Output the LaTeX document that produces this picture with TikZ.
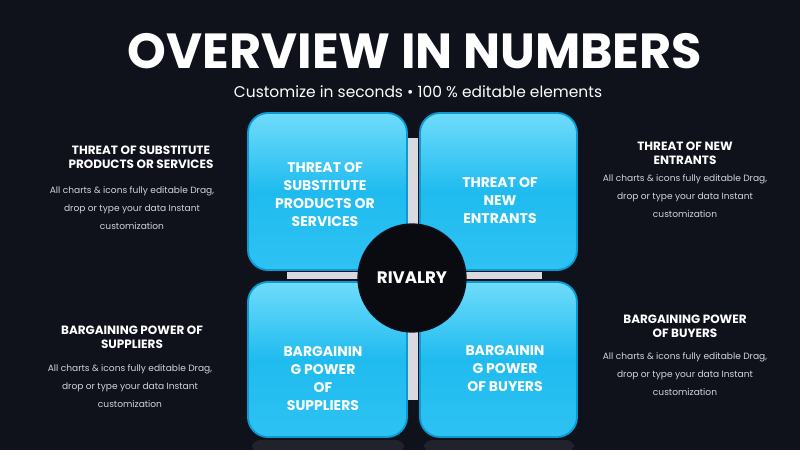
\documentclass[tikz,border=0pt]{standalone}
\usepackage{fontspec}
\setmainfont{Poppins}

\definecolor{bgnavy}{HTML}{0F111B}
\definecolor{cyanhi}{HTML}{6FDCFB}
\definecolor{cyanmid}{HTML}{1FBBEF}
\definecolor{cyanlo}{HTML}{2EC2F3}
\definecolor{cyanrim}{HTML}{0B9BD3}
\definecolor{bargray}{HTML}{D9D9DF}
\definecolor{bodygray}{HTML}{D2D4DA}
\definecolor{hubblack}{HTML}{0A0B10}

\tikzset{
  forcebox/.style={draw=cyanrim, line width=1.4pt, rounded corners=15pt, top color=cyanhi, bottom color=cyanlo, middle color=cyanmid},
  boxlabel/.style={text=white, font=\bfseries\fontsize{10.5}{13.5}\selectfont, align=center, inner sep=0pt},
  sidehead/.style={text=white, font=\bfseries\fontsize{9}{10.5}\selectfont, align=center, inner sep=0pt},
  sidebody/.style={text=bodygray, font=\fontsize{6.8}{13.5}\selectfont, align=center, inner sep=0pt},
}

\begin{document}
\begin{tikzpicture}[x=0.75pt,y=0.75pt,yscale=-1,xscale=1]
%background
\fill[bgnavy] (0,0) rectangle (800,450);
\useasboundingbox (0,0) rectangle (800,450);

% Title
\node[text=white, font=\bfseries\fontsize{37}{40}\selectfont, inner sep=0pt] (title) at (415,51) {OVERVIEW IN NUMBERS};
\node[text=white, font=\fontsize{11.6}{14}\selectfont, inner sep=0pt] (subtitle) at (418,92) {Customize in seconds \textbullet{} 100 \% editable elements};

% cross bars
\fill[bargray] (407,138) rectangle (418,400);
\fill[bargray] (287,272) rectangle (542,279);

% faint reflections
\fill[white, opacity=0.08, rounded corners=6pt] (252,440) rectangle (404,452);
\fill[white, opacity=0.08, rounded corners=6pt] (424,440) rectangle (574,452);

% quadrant boxes
\draw[forcebox] (248,113) rectangle (407,270);
\draw[forcebox] (420,113) rectangle (577,270);
\draw[forcebox] (248,282) rectangle (407,437);
\draw[forcebox] (420,282) rectangle (577,437);

% Text Node
\node[boxlabel] (substitutes) at (325,195) {THREAT OF\\SUBSTITUTE\\PRODUCTS OR\\SERVICES};
\node[boxlabel] (entrants) at (500,201) {THREAT OF\\NEW\\ENTRANTS};
\node[boxlabel] (suppliers) at (323,379) {BARGAININ\\G POWER\\OF\\SUPPLIERS};
\node[boxlabel] (buyers) at (505,369) {BARGAININ\\G POWER\\OF BUYERS};

% centre circle
\node[circle, fill=hubblack, draw=bgnavy, line width=1pt, minimum size=81pt, inner sep=0pt, text=white, font=\bfseries\fontsize{12.5}{15}\selectfont] (rivalry) at (412,278) {RIVALRY};

% side texts
\node[sidehead] (headTL) at (141,157) {THREAT OF SUBSTITUTE\\PRODUCTS OR SERVICES};
\node[sidebody] (bodyTL) at (132,208) {All charts \& icons fully editable Drag,\\drop or type your data Instant\\customization};

\node[sidehead] (headTR) at (685,153) {THREAT OF NEW\\ENTRANTS};
\node[sidebody] (bodyTR) at (685,196) {All charts \& icons fully editable Drag,\\drop or type your data Instant\\customization};

\node[sidehead] (headBL) at (132,337) {BARGAINING POWER OF\\SUPPLIERS};
\node[sidebody] (bodyBL) at (130,386) {All charts \& icons fully editable Drag,\\drop or type your data Instant\\customization};

\node[sidehead] (headBR) at (685,326) {BARGAINING POWER\\OF BUYERS};
\node[sidebody] (bodyBR) at (685,374) {All charts \& icons fully editable Drag,\\drop or type your data Instant\\customization};

\end{tikzpicture}
\end{document}
